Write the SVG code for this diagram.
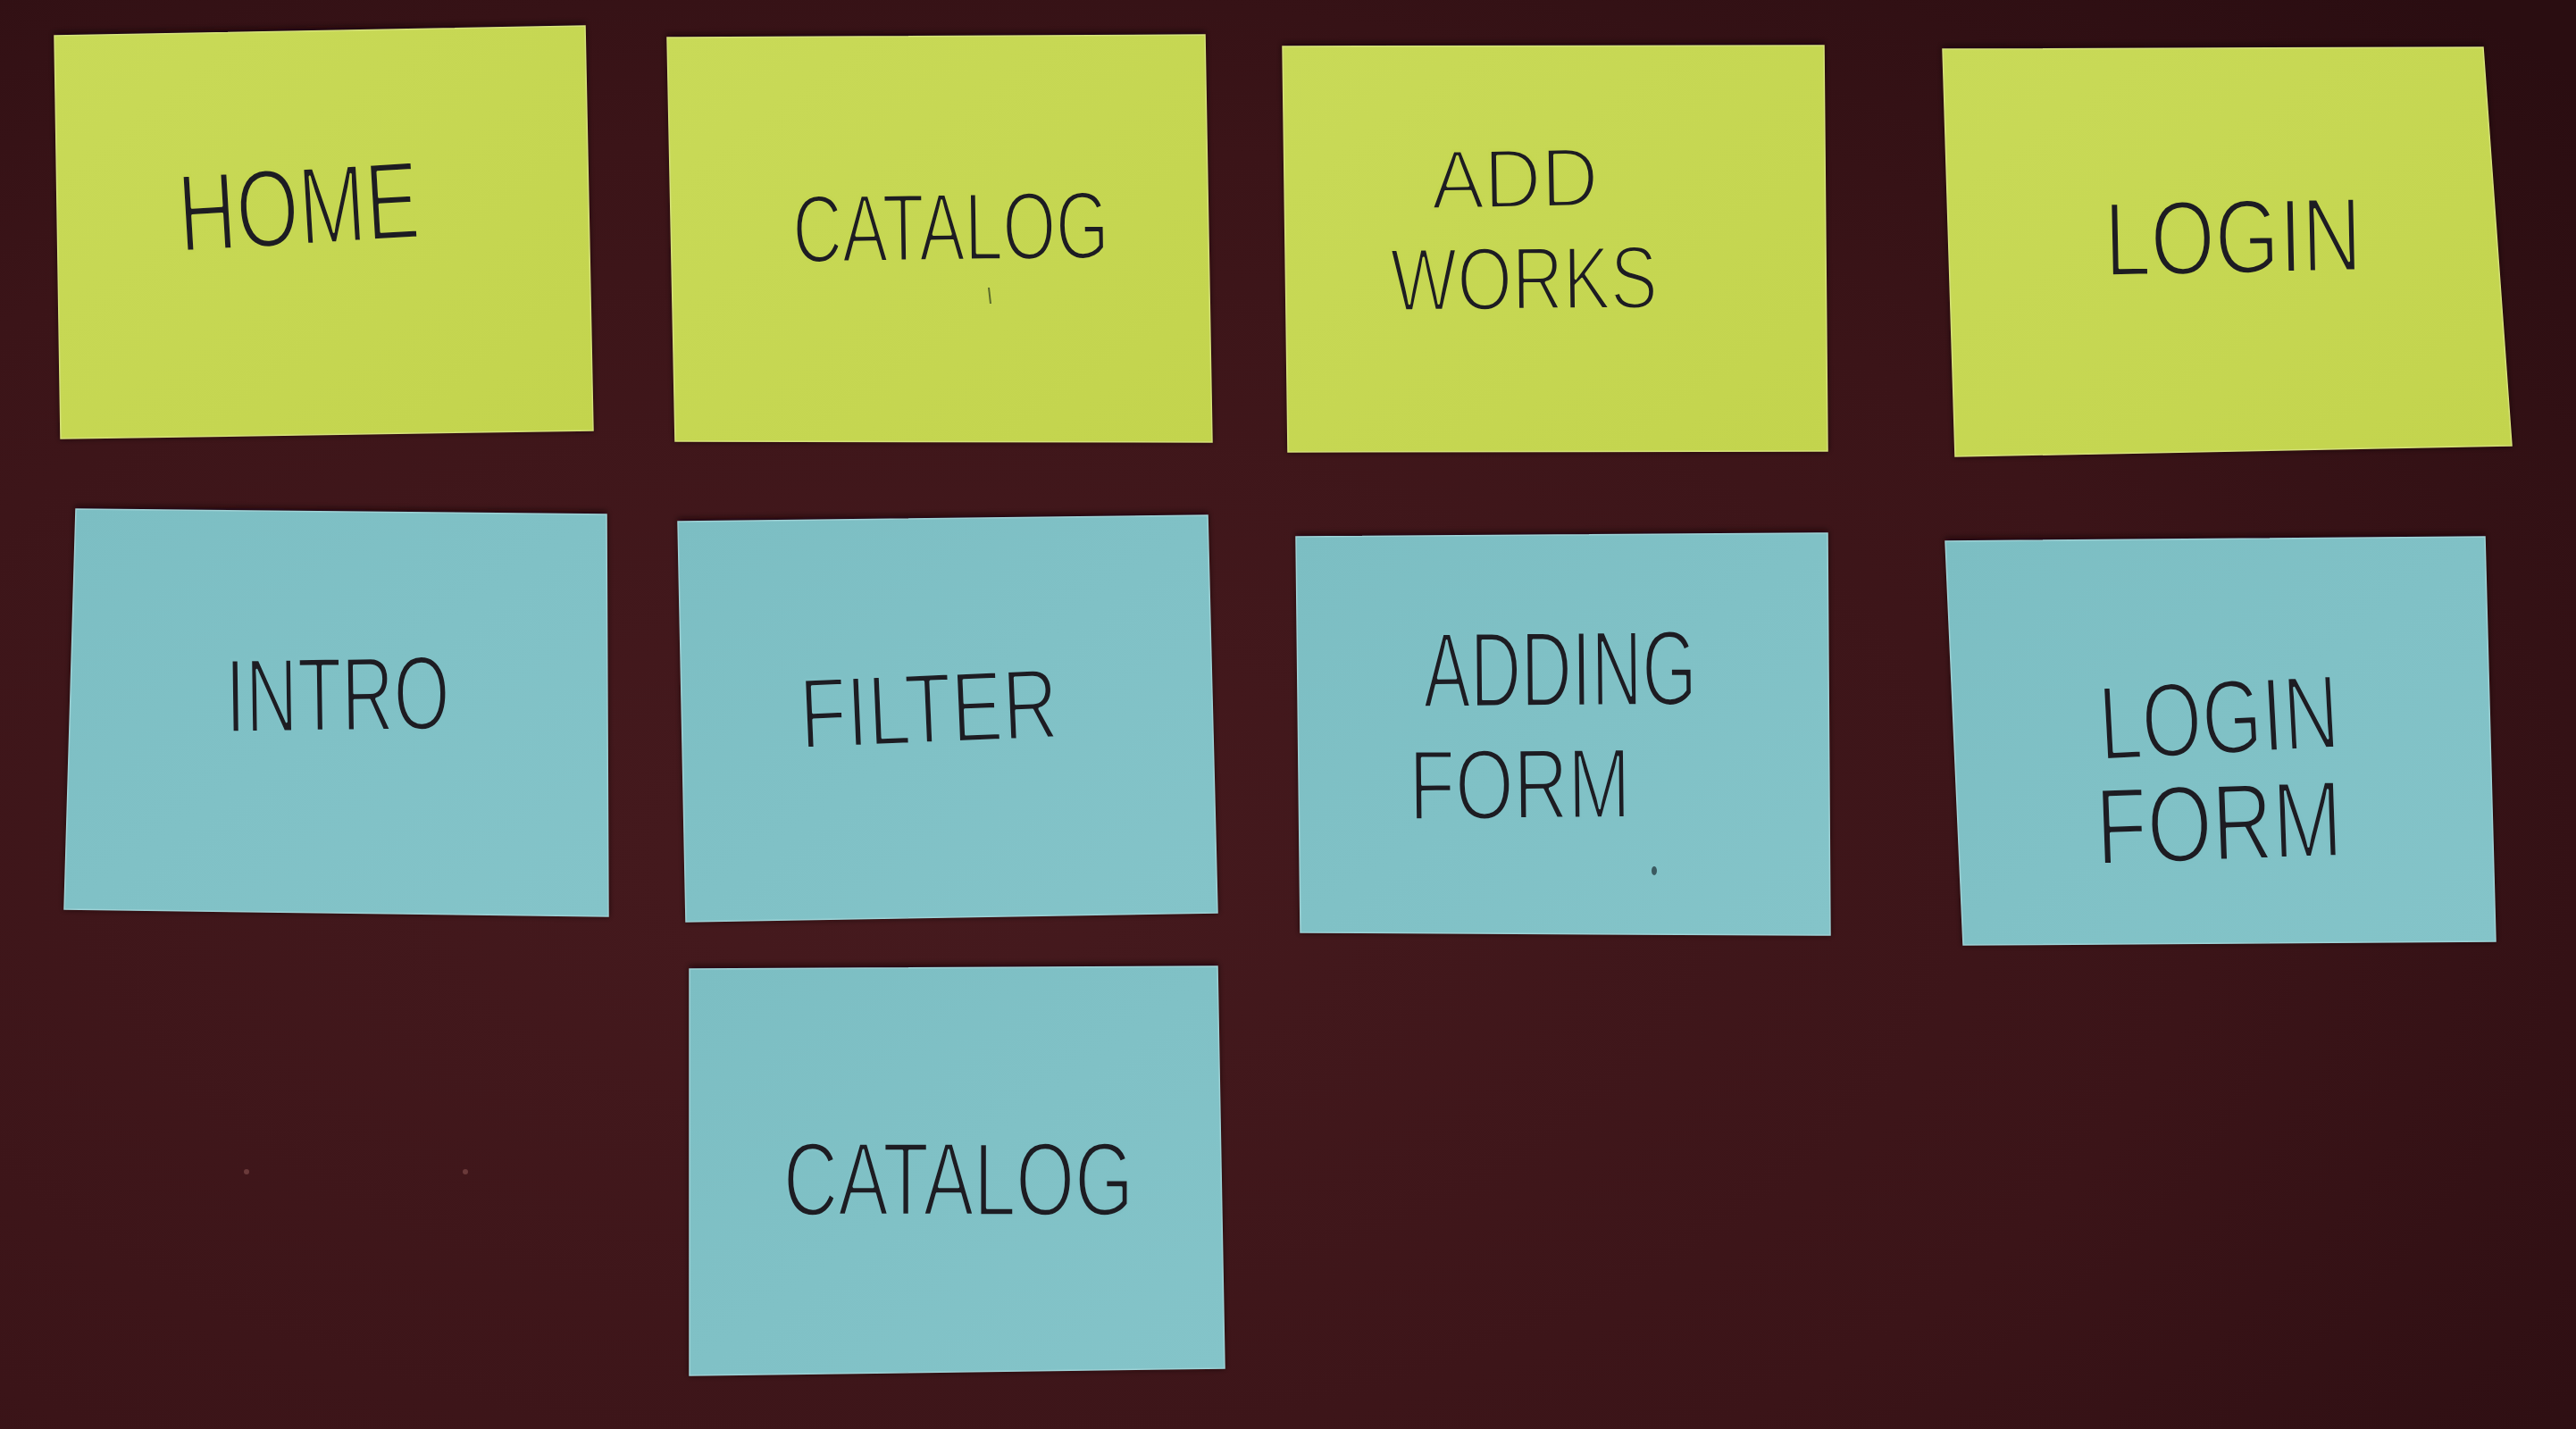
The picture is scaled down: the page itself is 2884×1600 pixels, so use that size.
<svg xmlns="http://www.w3.org/2000/svg" width="2884" height="1600" viewBox="0 0 2884 1600">
  <defs>
    <radialGradient id="board" cx="0.35" cy="0.6" r="0.85">
      <stop offset="0" stop-color="#461a1e"/>
      <stop offset="0.6" stop-color="#3b1418"/>
      <stop offset="1" stop-color="#2a0d11"/>
    </radialGradient>
    <linearGradient id="yellowPaper" x1="0" y1="0" x2="1" y2="1">
      <stop offset="0" stop-color="#c9da58"/>
      <stop offset="1" stop-color="#c3d44d"/>
    </linearGradient>
    <linearGradient id="bluePaper" x1="0" y1="0" x2="1" y2="1">
      <stop offset="0" stop-color="#7cbec3"/>
      <stop offset="1" stop-color="#84c4c9"/>
    </linearGradient>
    <filter id="shade" x="-5%" y="-5%" width="110%" height="110%">
      <feGaussianBlur stdDeviation="3"/>
    </filter>
  </defs>
  <style>
    .shadow { fill: #14050a; opacity: 0.8; filter: url(#shade); }
    .yellow { fill: url(#yellowPaper); stroke: #d6e27a; stroke-width: 1.5; }
    .blue { fill: url(#bluePaper); stroke: #9ed2d6; stroke-width: 1.5; }
    .label { font-family: "Liberation Sans", "DejaVu Sans", sans-serif; fill: #1d1c22; stroke-width: 3.4; stroke-linejoin: round; }
    .on-yellow { stroke: #c6d752; }
    .on-blue { stroke: #80c1c6; }
  </style>

  <!-- board -->
  <rect x="0" y="0" width="2884" height="1600" fill="url(#board)"/>
  <circle cx="276" cy="1312" r="3" fill="#6a3a3a"/>
  <circle cx="521" cy="1312" r="3" fill="#6a3a3a"/>

  <!-- page notes (top row) -->
  <g id="note-home">
    <polygon class="shadow" points="61,37 655,26 664,482 68,491"/>
    <polygon class="yellow" points="61,40 655,29 664,482 68,491"/>
    <text class="label on-yellow" x="202" y="282" font-size="124" textLength="270" lengthAdjust="spacingAndGlyphs" transform="rotate(-3.4 202 282)">HOME</text>
  </g>
  <g id="note-catalog">
    <polygon class="shadow" points="747,39 1349,36 1357,495 756,494"/>
    <polygon class="yellow" points="747,42 1349,39 1357,495 756,494"/>
    <text class="label on-yellow" x="888" y="294" font-size="108" textLength="354" lengthAdjust="spacingAndGlyphs" transform="rotate(-0.8 888 294)">CATALOG</text>
    <line x1="1107" y1="322" x2="1109" y2="340" stroke="#5a6a2a" stroke-width="2"/>
  </g>
  <g id="note-add-works">
    <polygon class="shadow" points="1436,49 2042,48 2046,505 1442,506"/>
    <polygon class="yellow" points="1436,52 2042,51 2046,505 1442,506"/>
    <text class="label on-yellow" x="1603" y="234" font-size="94" textLength="187" lengthAdjust="spacingAndGlyphs" transform="rotate(-1 1603 234)">ADD</text>
    <text class="label on-yellow" x="1557" y="348" font-size="100" textLength="299" lengthAdjust="spacingAndGlyphs" transform="rotate(-0.6 1557 348)">WORKS</text>
  </g>
  <g id="note-login">
    <polygon class="shadow" points="2175,52 2780,50 2812,499 2189,511"/>
    <polygon class="yellow" points="2175,55 2780,53 2812,499 2189,511"/>
    <text class="label on-yellow" x="2357" y="309" font-size="118" textLength="288" lengthAdjust="spacingAndGlyphs" transform="rotate(-1.2 2357 309)">LOGIN</text>
  </g>

  <!-- section notes (second row) -->
  <g id="note-intro">
    <polygon class="shadow" points="85,567 679,573 681,1026 72,1018"/>
    <polygon class="blue" points="85,570 679,576 681,1026 72,1018"/>
    <text class="label on-blue" x="253" y="820" font-size="118" textLength="251" lengthAdjust="spacingAndGlyphs" transform="rotate(-0.8 253 820)">INTRO</text>
  </g>
  <g id="note-filter">
    <polygon class="shadow" points="759,581 1352,574 1363,1022 768,1032"/>
    <polygon class="blue" points="759,584 1352,577 1363,1022 768,1032"/>
    <text class="label on-blue" x="897" y="838" font-size="112" textLength="289" lengthAdjust="spacingAndGlyphs" transform="rotate(-2.4 897 838)">FILTER</text>
  </g>
  <g id="note-adding-form">
    <polygon class="shadow" points="1451,598 2046,594 2049,1047 1456,1044"/>
    <polygon class="blue" points="1451,601 2046,597 2049,1047 1456,1044"/>
    <text class="label on-blue" x="1594" y="792" font-size="120" textLength="306" lengthAdjust="spacingAndGlyphs" transform="rotate(-0.5 1594 792)">ADDING</text>
    <text class="label on-blue" x="1578" y="918" font-size="112" textLength="248" lengthAdjust="spacingAndGlyphs" transform="rotate(-0.6 1578 918)">FORM</text>
    <ellipse cx="1852" cy="975" rx="3" ry="5" fill="#3b5a60"/>
  </g>
  <g id="note-login-form">
    <polygon class="shadow" points="2178,603 2782,598 2794,1054 2198,1058"/>
    <polygon class="blue" points="2178,606 2782,601 2794,1054 2198,1058"/>
    <text class="label on-blue" x="2352" y="851" font-size="118" textLength="269" lengthAdjust="spacingAndGlyphs" transform="rotate(-3 2352 851)">LOGIN</text>
    <text class="label on-blue" x="2348" y="968" font-size="122" textLength="276" lengthAdjust="spacingAndGlyphs" transform="rotate(-2 2348 968)">FORM</text>
  </g>

  <!-- section note (third row) -->
  <g id="note-catalog-section">
    <polygon class="shadow" points="772,1082 1363,1079 1371,1532 772,1540"/>
    <polygon class="blue" points="772,1085 1363,1082 1371,1532 772,1540"/>
    <text class="label on-blue" x="877" y="1361" font-size="116" textLength="392" lengthAdjust="spacingAndGlyphs">CATALOG</text>
  </g>

  <!-- no connectors are drawn on this board -->
  <g id="connectors"/>
</svg>
